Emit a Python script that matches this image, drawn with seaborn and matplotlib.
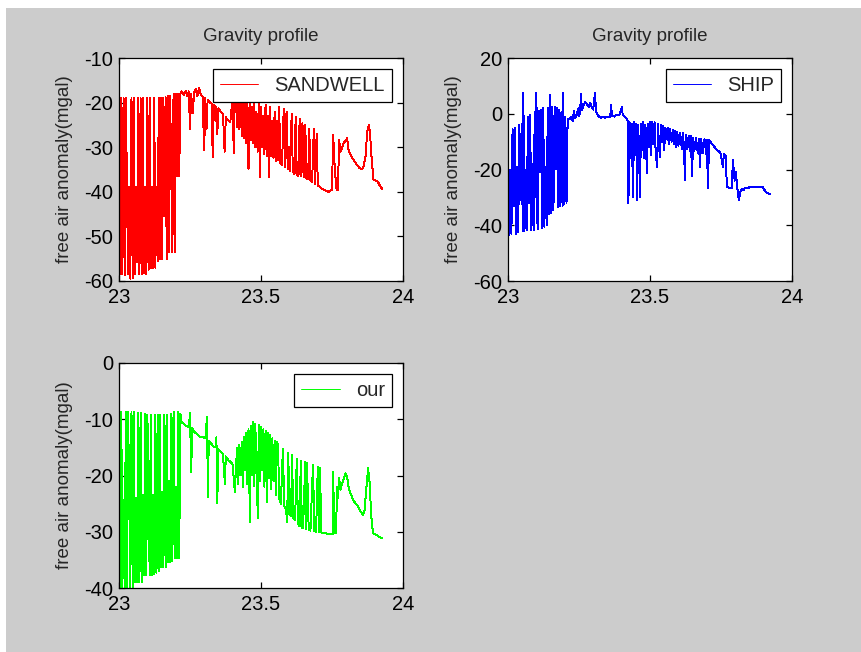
import matplotlib
matplotlib.use("Agg")
import matplotlib.pyplot as plt
import seaborn as sns
import numpy as np
from matplotlib.patches import Rectangle

sns.set_style("ticks")
plt.rcParams['font.family'] = ['Liberation Sans', 'DejaVu Sans']

# ---------------- data ----------------
x_dense = [23.000, 23.004, 23.008, 23.012, 23.016, 23.020, 23.024, 23.028, 23.032, 23.036,
           23.040, 23.044, 23.048, 23.052, 23.056, 23.060, 23.064, 23.068, 23.072, 23.076,
           23.080, 23.084, 23.088, 23.092, 23.096, 23.100, 23.104, 23.108, 23.112, 23.116,
           23.120, 23.124, 23.128, 23.132, 23.136, 23.140, 23.144, 23.148, 23.152, 23.156,
           23.160, 23.164, 23.168, 23.172, 23.176, 23.180, 23.184, 23.188, 23.192, 23.196,
           23.200, 23.204, 23.208, 23.212, 23.216, 23.220]

# SANDWELL
sandwell_x = x_dense + [
    23.228, 23.236, 23.240, 23.246, 23.250, 23.254, 23.260, 23.264, 23.270, 23.276,
    23.282, 23.288, 23.294, 23.300, 23.304, 23.308, 23.312, 23.320, 23.326, 23.330,
    23.334, 23.340, 23.346, 23.350, 23.358, 23.366, 23.372, 23.376, 23.384, 23.392,
    23.400, 23.404, 23.408,
    23.412, 23.416, 23.420, 23.424, 23.428, 23.432, 23.436, 23.440, 23.444, 23.448,
    23.452, 23.456, 23.460, 23.464, 23.468, 23.472, 23.476, 23.480, 23.484, 23.488,
    23.492, 23.496, 23.500, 23.504, 23.508, 23.512, 23.516, 23.520, 23.524, 23.528,
    23.532, 23.536, 23.540, 23.544, 23.548, 23.552, 23.556, 23.560,
    23.564, 23.568, 23.574, 23.580, 23.584, 23.590, 23.594, 23.598, 23.602, 23.608,
    23.612, 23.618, 23.622, 23.626, 23.632, 23.636, 23.640, 23.646, 23.650, 23.656,
    23.660, 23.666, 23.670, 23.674, 23.680, 23.686, 23.690, 23.696, 23.700, 23.708, 23.714,
    23.722, 23.730, 23.738, 23.750, 23.754, 23.760, 23.766, 23.771, 23.775, 23.780,
    23.786, 23.792, 23.798, 23.803, 23.808, 23.814, 23.822, 23.830, 23.838, 23.846,
    23.856, 23.862, 23.868, 23.874, 23.880, 23.884, 23.890, 23.896, 23.904, 23.912, 23.920, 23.926]
sandwell_y = [
    -19, -58.5, -19, -58.5, -19, -58.7, -19, -39, -58.5, -39,
    -59.5, -19, -59.3, -19, -58.5, -39, -55.8, -19, -58.5, -19,
    -58.5, -19, -58.3, -39, -58.5, -19, -57.5, -19, -57, -39,
    -57, -19, -57, -39, -55.5, -19, -55, -19, -55, -19,
    -45.5, -18.8, -55, -18.5, -53.5, -18.5, -36.5, -53.5, -18, -53.5,
    -18, -36.5, -18, -36.5, -18, -17.5,
    -18.3, -17.3, -18.5, -17.5, -26, -18, -22.4, -17.8, -17, -18.5,
    -16.8, -18.3, -18.5, -30.6, -19, -26, -19.4, -20, -20.2, -32.2,
    -20.5, -21, -27, -21.3, -22, -22.5, -31, -23.3, -24, -24.3,
    -19, -31.3, -18,
    -17, -25.5, -17, -26, -17, -27.5, -17.5, -28, -18, -29,
    -20, -35, -19, -28.5, -21, -29, -19.5, -30, -22, -31,
    -20, -36.6, -21, -30, -23, -31.5, -20.5, -32, -23, -36.8,
    -21, -32, -24, -32.5, -22, -33, -24, -32.9,
    -21, -33.5, -34, -21.5, -34.5, -22, -35, -30, -35.3, -22.5,
    -35.5, -36, -23.2, -36.2, -36.4, -23.6, -36.5, -24.6, -36.8, -25,
    -37, -37.2, -25.8, -37.4, -37.8, -26, -38.2, -27, -38.6, -38.9, -39.3,
    -39.6, -39.8, -40, -39.5, -27.3, -35, -39.5, -39.5, -28.4, -31,
    -30, -29, -28.5, -28, -30.5, -31.5, -32.5, -33.2, -34, -34.6,
    -35, -34.2, -32, -26.5, -25, -27, -33, -37.2, -37.5, -37.8, -38.8, -39.3]

# SHIP
ship_x = [
    23.000, 23.004, 23.008, 23.012, 23.016, 23.020, 23.024, 23.028, 23.032, 23.036,
    23.040, 23.044, 23.048, 23.052, 23.054, 23.058, 23.062, 23.066, 23.070, 23.074,
    23.078, 23.082, 23.086, 23.090, 23.094, 23.098, 23.100, 23.104, 23.108, 23.112,
    23.116, 23.120, 23.124, 23.128, 23.132, 23.136, 23.140, 23.144, 23.148, 23.152,
    23.156, 23.160, 23.164, 23.168, 23.172, 23.176, 23.180, 23.184, 23.188, 23.192,
    23.194, 23.198, 23.202, 23.206, 23.210,
    23.216, 23.222, 23.228, 23.232, 23.236, 23.242, 23.248, 23.250, 23.254, 23.257,
    23.260, 23.266, 23.272, 23.278, 23.284, 23.290, 23.296, 23.300, 23.306, 23.310,
    23.316, 23.322, 23.328, 23.334, 23.340, 23.346, 23.352, 23.360, 23.363, 23.366,
    23.374, 23.382, 23.392, 23.401, 23.404, 23.410, 23.416, 23.420,
    23.422, 23.424, 23.428, 23.432, 23.436, 23.440, 23.444, 23.448, 23.452, 23.455,
    23.458, 23.462, 23.465, 23.468, 23.472, 23.476, 23.480, 23.484, 23.489, 23.492,
    23.496, 23.500, 23.504, 23.508, 23.512, 23.516, 23.520, 23.525, 23.528, 23.532,
    23.535, 23.538, 23.542, 23.546, 23.550, 23.554, 23.558, 23.562, 23.566, 23.570,
    23.576, 23.580,
    23.584, 23.588, 23.592, 23.596, 23.600, 23.606, 23.612, 23.616, 23.620, 23.623,
    23.626, 23.630, 23.636, 23.640, 23.644, 23.648, 23.652, 23.656, 23.662, 23.668,
    23.672, 23.676, 23.680, 23.686, 23.692, 23.698, 23.700, 23.704, 23.708,
    23.716, 23.726, 23.736, 23.748, 23.757, 23.760, 23.766, 23.771, 23.782, 23.788,
    23.792, 23.798, 23.802, 23.808, 23.813, 23.818, 23.824, 23.830, 23.835, 23.842,
    23.852, 23.862, 23.872, 23.886, 23.898, 23.904, 23.912, 23.918, 23.923]
ship_y = [
    -5.8, -43.5, -20, -43, -5.5, -33, -5, -43, -19, -42.5,
    -4, -31, -3.5, -42, 7.4, -42, -20, -41.8, -1, -32,
    -0.5, -41.8, -18, -41.7, 0.5, -30, 7.4, -41.5, 1, -21,
    1.5, -41, 2, -40.5, -19, -40, 2, -36, 6.8, -35.6,
    2.4, -34.5, 2.4, -20, 2, -33.4, 1.5, -33.2, 0.5, -33,
    7.4, -32.5, -1, -32, -2,
    -2, -1.2, -2.5, 1, -1.5, -0.5, 2, -1, 1, 7,
    1.5, 3, 4.2, 3.5, 2.5, 3.8, 2, 1.5, 7.4, 1,
    -0.5, -1.2, -1.5, -1, -1.4, -1.2, -1, -1, 3.1, -0.8,
    -1, -0.4, -0.4, 2.4, -0.5, -1, -1.5, -2.2,
    -3, -32, -3, -16, -3.5, -30, -3, -15, -3.5, -31,
    -4, -14, -29.9, -3.5, -13, -3, -16, -4, -21.3, -3.5,
    -12, -3, -15, -2.8, -11, -3, -14, -19, -3.5, -12,
    -15.5, -4, -10, -4.5, -13, -5, -9, -5, -11, -5.5,
    -10, -5.8,
    -11, -6, -12, -6.5, -11.5, -7, -12.5, -7, -13, -23.8,
    -7.5, -12.5, -8, -13.5, -8, -22.5, -8.5, -13.5, -8.5, -14,
    -9, -19, -9, -14, -9.2, -14.5, -9.4, -26.6, -9.4,
    -10.5, -11.8, -13, -14, -19, -14.5, -15, -26.3, -26.6, -26.5,
    -16.6, -24, -21, -27, -31, -28, -27, -27.3, -26.6, -26.8,
    -26.3, -26.4, -26.2, -26.2, -26.4, -27.5, -28.4, -28.6, -28.7]

# our
our_x = x_dense + [
    23.228, 23.236, 23.246, 23.250, 23.254, 23.258, 23.266, 23.276, 23.286, 23.296,
    23.304, 23.310, 23.313, 23.316, 23.324, 23.332, 23.340, 23.343, 23.346, 23.350,
    23.358, 23.366, 23.373, 23.376, 23.384, 23.392, 23.400, 23.408, 23.412,
    23.416, 23.420, 23.424, 23.428, 23.432, 23.436, 23.440, 23.444, 23.448, 23.452,
    23.456, 23.461, 23.464, 23.468, 23.472, 23.476, 23.480, 23.484, 23.489, 23.492,
    23.496, 23.500, 23.504, 23.508, 23.512, 23.516, 23.521, 23.524, 23.528, 23.532,
    23.536, 23.540, 23.544, 23.548, 23.552, 23.556,
    23.560, 23.564, 23.570, 23.577, 23.582, 23.588, 23.592, 23.596, 23.600, 23.606,
    23.609, 23.614, 23.620, 23.626, 23.630, 23.636, 23.640, 23.644, 23.648, 23.656,
    23.660, 23.662, 23.668, 23.674, 23.683, 23.688, 23.694, 23.700, 23.704, 23.708,
    23.712, 23.720, 23.730, 23.740, 23.748,
    23.752, 23.754, 23.758, 23.764, 23.768, 23.771, 23.775, 23.780, 23.786, 23.792,
    23.797, 23.803, 23.808, 23.813, 23.822, 23.830, 23.838, 23.846, 23.854, 23.859,
    23.864, 23.870, 23.877, 23.882, 23.888, 23.894, 23.900, 23.908, 23.916, 23.926]
our_y = [
    -8.7, -39.8, -8.7, -39.8, -24.4, -39.8, -8.7, -39.8, -8.7, -24.4,
    -39.8, -8.7, -39.8, -8.7, -39, -24, -39, -8.8, -39, -8.8,
    -39, -23.5, -37.7, -9, -37.7, -9.2, -23.5, -37.7, -9.2, -37.7,
    -23.5, -37.5, -9.2, -37.3, -9.2, -37, -9.2, -36.3, -23, -36.3,
    -9.2, -36.3, -9.2, -35.4, -21, -35.4, -9, -35.2, -8.7, -34.7,
    -22, -34.7, -8.7, -34.7, -9, -10.5,
    -10.8, -11.2, -11.4, -8.8, -19.4, -11.6, -12.3, -12.7, -13.2, -13.2,
    -13.4, -9.6, -23.8, -13.8, -14.3, -14.8, -15, -13.2, -24.9, -15.3,
    -15.8, -16.2, -21.5, -16.6, -17.2, -17.6, -18, -23, -18.3,
    -15.1, -21.5, -14.5, -20, -14, -22, -13.2, -19, -12.5, -21.5,
    -11.8, -28.3, -11.2, -20, -10.5, -21.8, -10.8, -19.5, -27.6, -11,
    -21, -11.4, -19, -11.8, -22, -12, -24.7, -12.5, -20.5, -12.8,
    -22.5, -13.4, -21, -13.8, -23.5, -14,
    -14.6, -24, -25, -15.3, -25.5, -26, -28.3, -16, -26.8, -27.2,
    -16.4, -27.5, -28, -17, -28.5, -29, -17.4, -29.2, -29.4, -17.6,
    -29.5, -17.8, -29.7, -29.8, -18.1, -29.9, -30, -18.5, -30, -18.7,
    -30.1, -30.2, -30.3, -30.4, -30.4,
    -30.4, -19.4, -30.3, -30.3, -22, -24, -20.4, -22.5, -21.3, -20.5,
    -19.6, -20.2, -22, -23, -24, -24.8, -25.2, -26, -26.6, -27,
    -26.5, -23, -18.7, -21, -27, -30.2, -30.4, -30.6, -30.9, -31.1]

x_ticks = [23, 23.5, 24]
x_tick_labels = ['23', '23.5', '24']
title_text = 'Gravity profile'
y_label = 'free air anomaly(mgal)'

# ---------------- figure ----------------
W, H = 861, 652
fig = plt.figure(figsize=(W / 100, H / 100), dpi=100, facecolor='white')
fig.add_artist(Rectangle((6 / W, 0), 1, (H - 8) / H, transform=fig.transFigure,
                         facecolor='#cccccc', edgecolor='none', zorder=-10))


def make_ax(left, top, right, bottom):
    return fig.add_axes([left / W, 1 - bottom / H, (right - left) / W, (bottom - top) / H])


ax1 = make_ax(119, 58, 403, 281)
ax2 = make_ax(508, 58, 792, 281)
ax3 = make_ax(119, 363, 403, 588)

panels = [
    (ax1, sandwell_x, sandwell_y, '#ff0000', 'SANDWELL', (-60, -10), [-60, -50, -40, -30, -20, -10], True),
    (ax2, ship_x, ship_y, '#0000ff', 'SHIP', (-60, 20), [-60, -40, -20, 0, 20], True),
    (ax3, our_x, our_y, '#00ff00', 'our', (-40, 0), [-40, -30, -20, -10, 0], False),
]

for ax, xs, ys, col, lab, ylim, yt, has_title in panels:
    sns.lineplot(x=np.array(xs), y=np.array(ys), ax=ax, color=col, linewidth=0.7,
                 label=lab, sort=False, estimator=None, antialiased=False)
    ax.set_facecolor('white')
    ax.set_xlim(23, 24)
    ax.set_ylim(*ylim)
    ax.set_xticks(x_ticks)
    ax.set_xticklabels(x_tick_labels)
    ax.set_yticks(yt)
    ax.set_yticklabels([str(v) for v in yt])
    ax.tick_params(axis='both', direction='in', top=True, right=True, length=4,
                   width=0.9, labelsize=14.5, colors='black')
    ax.tick_params(axis='x', pad=5)
    ax.tick_params(axis='y', pad=4)
    for s in ax.spines.values():
        s.set_color('black')
        s.set_linewidth(0.9)
    ax.set_xlabel('')
    ax.set_ylabel(y_label, fontsize=13.5, labelpad=8)
    if has_title:
        ax.set_title(title_text, fontsize=13.5, pad=12)
    leg = ax.legend(loc='upper right', frameon=True, fancybox=False, edgecolor='black',
                    framealpha=1, fontsize=14.5, handlelength=1.9, handletextpad=0.8,
                    borderpad=0.35, borderaxespad=0.55)
    leg.get_frame().set_linewidth(0.9)
    for ln in leg.get_lines():
        ln.set_linewidth(0.7)

fig.savefig('out.png', dpi=100, facecolor=fig.get_facecolor())
